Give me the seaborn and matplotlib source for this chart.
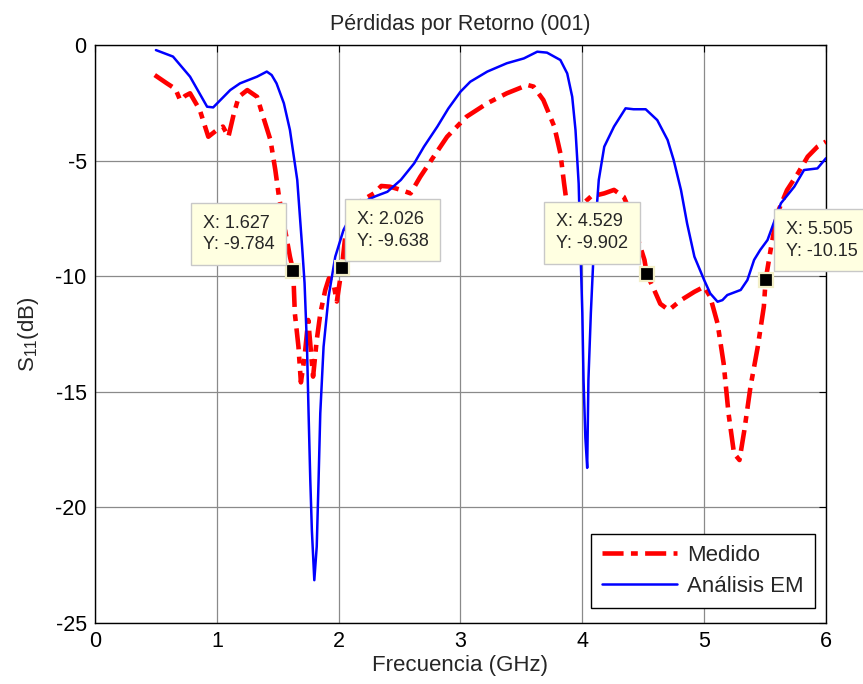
import matplotlib
matplotlib.use("Agg")
import matplotlib.pyplot as plt
import seaborn as sns
import pandas as pd

# Measured return loss (Medido)
freq_med = [0.49, 0.59, 0.66, 0.70, 0.74, 0.78, 0.86, 0.93, 1.00, 1.05, 1.095, 1.14, 1.18,
            1.25, 1.33, 1.38, 1.44, 1.48, 1.51, 1.56, 1.60, 1.627, 1.64, 1.67, 1.69, 1.72,
            1.75, 1.79, 1.82, 1.85, 1.89, 1.92, 1.96, 1.985, 2.026, 2.06, 2.15, 2.29, 2.35,
            2.42, 2.51, 2.59, 2.67, 2.78, 2.89, 3.05, 3.22, 3.38, 3.55, 3.60, 3.68, 3.77,
            3.82, 3.85, 3.876, 3.92, 3.97, 4.02, 4.07, 4.18, 4.26, 4.34, 4.40, 4.45, 4.51,
            4.529, 4.59, 4.64, 4.71, 4.81, 4.92, 5.00, 5.05, 5.11, 5.16, 5.20, 5.245, 5.29,
            5.33, 5.38, 5.44, 5.49, 5.505, 5.55, 5.60, 5.68, 5.77, 5.85, 5.93, 6.00]
s11_med = [-1.30, -1.66, -1.90, -2.40, -2.20, -2.09, -2.81, -3.97, -3.68, -3.53, -3.97, -2.96,
           -2.24, -1.95, -2.24, -3.10, -4.11, -5.41, -6.57, -8.00, -9.16, -9.784, -11.6,
           -13.06, -14.6, -13.5, -11.9, -14.35, -12.77, -11.6, -10.6, -10.1, -10.4, -11.1,
           -9.638, -8.0, -6.85, -6.42, -6.10, -6.13, -6.27, -6.42, -5.70, -4.83, -3.97,
           -3.10, -2.52, -2.09, -1.73, -1.80, -2.38, -3.53, -4.69, -5.98, -7.0, -7.6, -7.3,
           -6.8, -6.56, -6.42, -6.27, -6.57, -7.29, -8.30, -9.30, -9.902, -10.6, -11.2,
           -11.47, -11.04, -10.68, -10.46, -10.9, -12.05, -13.78, -15.94, -17.67, -17.96,
           -16.67, -14.8, -13.06, -11.32, -10.15, -8.73, -7.29, -6.28, -5.55, -4.83, -4.40,
           -4.18]

# Simulated return loss (Análisis EM)
freq_em = [0.50, 0.64, 0.78, 0.92, 0.97, 1.11, 1.19, 1.33, 1.41, 1.45, 1.49, 1.55, 1.60, 1.66,
           1.70, 1.72, 1.74, 1.753, 1.767, 1.78, 1.80, 1.82, 1.835, 1.849, 1.876, 1.917,
           1.972, 2.04, 2.12, 2.20, 2.30, 2.40, 2.51, 2.62, 2.70, 2.81, 2.90, 3.00, 3.08,
           3.22, 3.38, 3.52, 3.63, 3.71, 3.82, 3.876, 3.917, 3.944, 3.97, 3.985, 4.00, 4.01,
           4.025, 4.04, 4.05, 4.07, 4.095, 4.135, 4.18, 4.26, 4.355, 4.42, 4.52, 4.615, 4.70,
           4.75, 4.81, 4.86, 4.92, 5.00, 5.05, 5.11, 5.15, 5.19, 5.30, 5.355, 5.41, 5.46,
           5.52, 5.57, 5.63, 5.74, 5.82, 5.93, 6.00]
s11_em = [-0.22, -0.50, -1.37, -2.67, -2.70, -1.95, -1.66, -1.37, -1.15, -1.30, -1.66, -2.52,
          -3.68, -5.84, -8.73, -10.3, -13.06, -15.94, -18.83, -21.0, -23.16, -21.7, -18.83,
          -15.94, -13.06, -10.9, -9.16, -8.0, -7.2, -6.8, -6.55, -6.35, -5.84, -5.12, -4.40,
          -3.53, -2.75, -2.02, -1.59, -1.15, -0.79, -0.58, -0.29, -0.33, -0.65, -1.23, -2.24,
          -3.68, -6.0, -8.9, -11.6, -14.5, -17.0, -18.3, -14.5, -11.6, -8.73, -5.84, -4.40,
          -3.53, -2.74, -2.78, -2.78, -3.25, -4.11, -4.98, -6.28, -7.72, -9.16, -10.17,
          -10.75, -11.11, -11.04, -10.82, -10.6, -10.17, -9.3, -8.87, -8.44, -7.72, -6.85,
          -6.13, -5.41, -5.34, -4.90]

# Data tips on the measured curve
tip_x = [1.627, 2.026, 4.529, 5.505]
tip_y = [-9.784, -9.638, -9.902, -10.15]
tip_labels = ["X: 1.627\nY: -9.784", "X: 2.026\nY: -9.638",
              "X: 4.529\nY: -9.902", "X: 5.505\nY: -10.15"]

x_ticks = [0, 1, 2, 3, 4, 5, 6]
y_ticks = [-25, -20, -15, -10, -5, 0]

sns.set_style("white")
plt.rcParams["font.family"] = ["Liberation Sans", "DejaVu Sans"]
plt.rcParams["mathtext.default"] = "regular"
plt.rcParams["axes.unicode_minus"] = False

fig = plt.figure(figsize=(8.63, 6.84), dpi=100)
ax = fig.add_axes([0.1101, 0.0896, 0.8470, 0.8446])

df_med = pd.DataFrame({"f": freq_med, "s11": s11_med})
df_em = pd.DataFrame({"f": freq_em, "s11": s11_em})

sns.lineplot(data=df_med, x="f", y="s11", ax=ax, color="#FF0000", linewidth=3.3,
             estimator=None, sort=False, label="Medido", zorder=3)
sns.lineplot(data=df_em, x="f", y="s11", ax=ax, color="#0000FF", linewidth=1.8,
             estimator=None, sort=False, label="Análisis EM", zorder=4)
ax.lines[0].set_dashes([4.6, 1.6, 1.5, 1.6])

ax.set_xlim(0, 6)
ax.set_ylim(-25, 0)
ax.set_xticks(x_ticks)
ax.set_yticks(y_ticks)
ax.tick_params(axis="both", direction="in", length=5, width=0.8, labelsize=15.5,
               top=True, right=True, colors="black", pad=6)
ax.grid(True, color="#8a8a8a", linewidth=0.9)
ax.set_axisbelow(True)
for sp in ax.spines.values():
    sp.set_color("black")
    sp.set_linewidth(1.0)

ax.set_title("Pérdidas por Retorno (001)", fontsize=15.5, pad=11)
ax.set_xlabel("Frecuencia (GHz)", fontsize=16, labelpad=2)
ax.set_ylabel("S$_{11}$(dB)", fontsize=16, labelpad=10)

# Data tip markers and boxes
ax.plot(tip_x, tip_y, linestyle="none", marker="s", markersize=9.5,
        markerfacecolor="black", markeredgecolor="#F3EFC8", markeredgewidth=1.6,
        zorder=6)
offsets = [(-19, 18, "right"), (15, 18, "left"), (-19, 22, "right"), (20, 20, "left")]
box = dict(boxstyle="square,pad=0.65", fc="#FFFFE1", ec="#C8C8C8", lw=1.0)
for x, y, lbl, (dx, dy, ha) in zip(tip_x, tip_y, tip_labels, offsets):
    ax.annotate(lbl, xy=(x, y), xytext=(dx, dy), textcoords="offset pixels",
                ha=ha, va="bottom", multialignment="left", fontsize=13, bbox=box,
                zorder=7, annotation_clip=False, linespacing=1.35)

leg = ax.legend(loc="lower right", bbox_to_anchor=(0.985, 0.025), borderaxespad=0,
                fontsize=16, frameon=True, fancybox=False, handlelength=3.4,
                edgecolor="black", framealpha=1, borderpad=0.5, labelspacing=0.45,
                handletextpad=0.45)
leg.get_frame().set_linewidth(1.0)

fig.savefig("out.png", dpi=100)
